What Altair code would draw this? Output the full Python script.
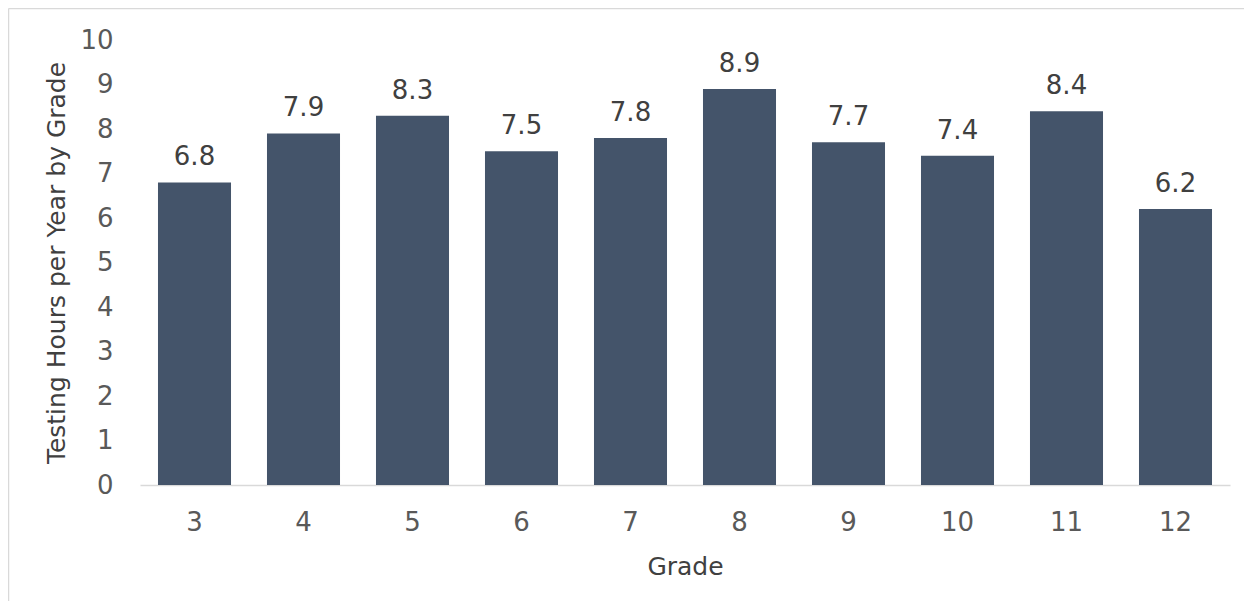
import altair as alt
import pandas as pd

grades = ["3", "4", "5", "6", "7", "8", "9", "10", "11", "12"]
hours = [6.8, 7.9, 8.3, 7.5, 7.8, 8.9, 7.7, 7.4, 8.4, 6.2]
y_ticks = [0, 1, 2, 3, 4, 5, 6, 7, 8, 9, 10]

df = pd.DataFrame({"Grade": grades, "Hours": hours})

FONT = "DejaVu Sans"
BAR = "#44546A"

base = alt.Chart(df)

bars = base.mark_bar(color=BAR).encode(
    x=alt.X(
        "Grade:N",
        sort=grades,
        scale=alt.Scale(paddingInner=0.33, paddingOuter=0.165),
        axis=alt.Axis(
            title="Grade",
            labelAngle=0,
            ticks=False,
            domainColor="#d9d9d9",
            domainWidth=1.5,
            labelFont=FONT,
            labelFontSize=26,
            labelColor="#595959",
            labelPadding=24,
            titleFont=FONT,
            titleFontSize=25,
            titleFontWeight="normal",
            titleColor="#404040",
            titlePadding=19,
        ),
    ),
    y=alt.Y(
        "Hours:Q",
        scale=alt.Scale(domain=[0, 10], nice=False),
        axis=alt.Axis(
            title="Testing Hours per Year by Grade",
            values=y_ticks,
            grid=False,
            ticks=False,
            domain=False,
            labelFont=FONT,
            labelFontSize=26,
            labelColor="#595959",
            labelPadding=27,
            titleFont=FONT,
            titleFontSize=25,
            titleFontWeight="normal",
            titleColor="#404040",
            titlePadding=10,
        ),
    ),
)

labels = base.mark_text(
    font=FONT, fontSize=26, color="#404040", baseline="alphabetic", dy=-17
).encode(
    x=alt.X("Grade:N", sort=grades),
    y="Hours:Q",
    text=alt.Text("Hours:Q", format=".1f"),
)

border_data = alt.Data(values=[{"k": 1}])
left_border = alt.Chart(border_data).mark_rule(color="#d9d9d9", strokeWidth=1.5).encode(
    x=alt.value(-131.5), y=alt.value(-31.5), y2=alt.value(700)
)
top_border = alt.Chart(border_data).mark_rule(color="#d9d9d9", strokeWidth=1.5).encode(
    x=alt.value(-131.5), x2=alt.value(1200), y=alt.value(-31.5)
)

chart = (
    alt.layer(bars, labels, left_border, top_border)
    .properties(
        width=1090,
        height=445,
        padding={"left": 132, "top": 32, "right": 14, "bottom": 116},
        autosize=alt.AutoSizeParams(type="none"),
        background="white",
    )
    .configure_view(stroke=None)
)

chart.save("out.html", embed_options={"renderer": "svg", "actions": False})
